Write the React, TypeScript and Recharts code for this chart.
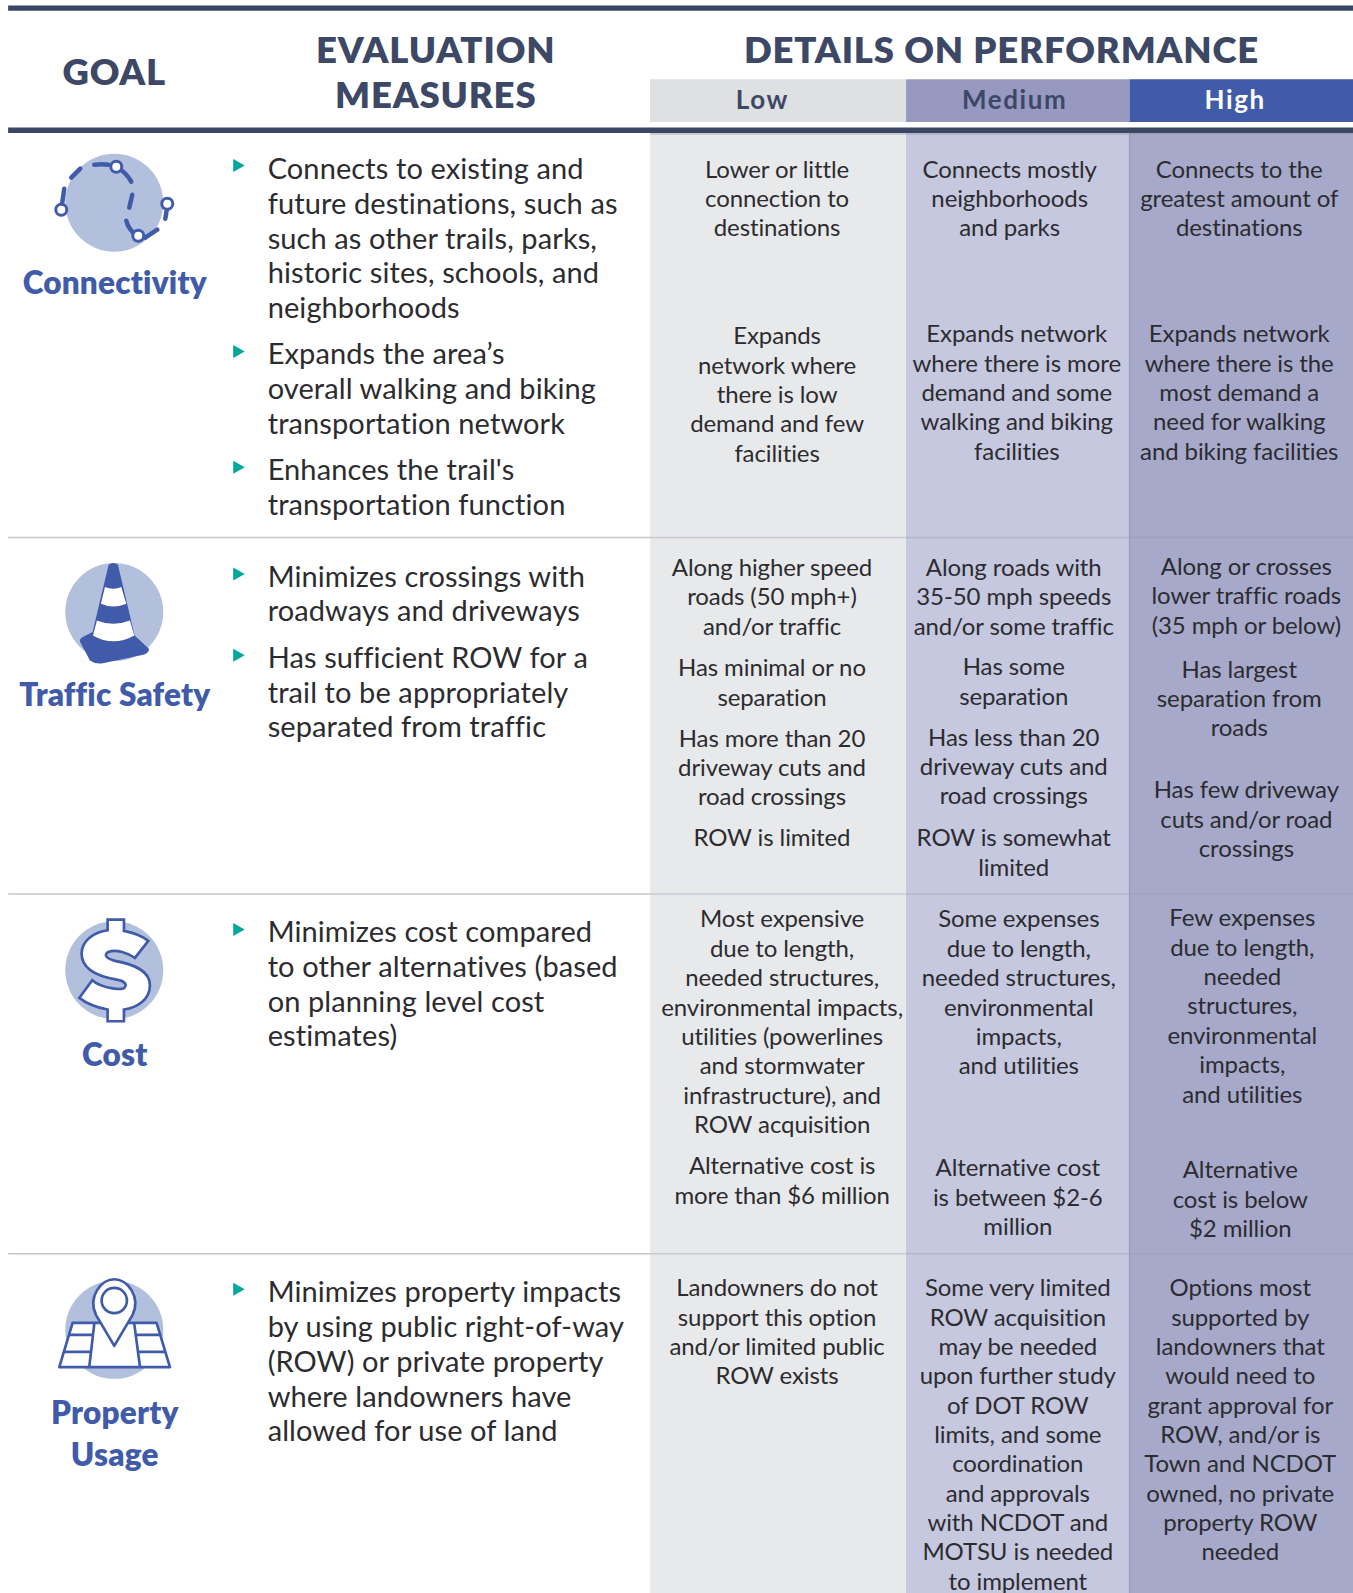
import React from "react";
import { ComposedChart, XAxis, YAxis, Scatter, ReferenceArea } from "recharts";

const W = 1353, H = 1593;
const VIEW_W = 1332, VIEW_H = 1568;
const FONT = "Lato, 'Noto Sans', sans-serif";
const INK = "#2c2c30", NAVY = "#3d4866", BLUE = "#3f5ba9", TEAL = "#00a79d", DISC = "#b2bfdd";

const headerGoal = ["GOAL"];
const headerMeasures = ["EVALUATION", "MEASURES"];
const headerDetails = ["DETAILS ON PERFORMANCE"];
const levels = ["Low", "Medium", "High"];

const m1a = ["Connects to existing and", "future destinations, such as", "such as other trails, parks,", "historic sites, schools, and", "neighborhoods"];
const m1b = ["Expands the area’s", "overall walking and biking", "transportation network"];
const m1c = ["Enhances the trail's", "transportation function"];
const m2a = ["Minimizes crossings with", "roadways and driveways"];
const m2b = ["Has sufficient ROW for a", "trail to be appropriately", "separated from traffic"];
const m3a = ["Minimizes cost compared", "to other alternatives (based", "on planning level cost", "estimates)"];
const m4a = ["Minimizes property impacts", "by using public right-of-way", "(ROW) or private property", "where landowners have", "allowed for use of land"];

const l1a = ["Lower or little", "connection to", "destinations"];
const l1b = ["Expands", "network where", "there is low", "demand and few", "facilities"];
const c1a = ["Connects mostly", "neighborhoods", "and parks"];
const c1b = ["Expands network", "where there is more", "demand and some", "walking and biking", "facilities"];
const h1a = ["Connects to the", "greatest amount of", "destinations"];
const h1b = ["Expands network", "where there is the", "most demand a", "need for walking", "and biking facilities"];

const l2a = ["Along higher speed", "roads (50 mph+)", "and/or traffic"];
const l2b = ["Has minimal or no", "separation"];
const l2c = ["Has more than 20", "driveway cuts and", "road crossings"];
const l2d = ["ROW is limited"];
const c2a = ["Along roads with", "35-50 mph speeds", "and/or some traffic"];
const c2b = ["Has some", "separation"];
const c2c = ["Has less than 20", "driveway cuts and", "road crossings"];
const c2d = ["ROW is somewhat", "limited"];
const h2a = ["Along or crosses", "lower traffic roads", "(35 mph or below)"];
const h2b = ["Has largest", "separation from", "roads"];
const h2c = ["Has few driveway", "cuts and/or road", "crossings"];

const l3a = ["Most expensive", "due to length,", "needed structures,", "environmental impacts,", "utilities (powerlines", "and stormwater", "infrastructure), and", "ROW acquisition"];
const l3b = ["Alternative cost is", "more than $6 million"];
const c3a = ["Some expenses", "due to length,", "needed structures,", "environmental", "impacts,", "and utilities"];
const c3b = ["Alternative cost", "is between $2-6", "million"];
const h3a = ["Few expenses", "due to length,", "needed", "structures,", "environmental", "impacts,", "and utilities"];
const h3b = ["Alternative", "cost is below", "$2 million"];

const l4a = ["Landowners do not", "support this option", "and/or limited public", "ROW exists"];
const c4a = ["Some very limited", "ROW acquisition", "may be needed", "upon further study", "of DOT ROW", "limits, and some", "coordination", "and approvals", "with NCDOT and", "MOTSU is needed", "to implement"];
const h4a = ["Options most", "supported by", "landowners that", "would need to", "grant approval for", "ROW, and/or is", "Town and NCDOT", "owned, no private", "property ROW", "needed"];

const goalNames = [["Connectivity"], ["Traffic Safety"], ["Cost"], ["Property", "Usage"]];

type Pt = { x: number; y: number; text: string; kind: string; anchor: string; fill?: string };
const rows = (text: string[], x: number, y: number, step: number, kind: string, anchor = "middle", fill?: string): Pt[] =>
  text.map((t, i) => ({ x, y: y + i * step, text: t, kind, anchor, fill }));

const BS = 28.9, MS = 34.2;
const textPoints: Pt[] = [
  ...rows(headerGoal, 112.5, 70, 44, "head"),
  ...rows(headerMeasures, 429, 49, 44, "head"),
  ...rows(headerDetails, 986, 49, 44, "head"),
  ...rows([levels[0]], 750.5, 98, 0, "level", "middle", NAVY),
  ...rows([levels[1]], 999, 98, 0, "level", "middle", NAVY),
  ...rows([levels[2]], 1216, 98, 0, "level", "middle", "#ffffff"),

  ...rows(goalNames[0], 113, 278, 42, "goal"),
  ...rows(goalNames[1], 113, 684, 42, "goal"),
  ...rows(goalNames[2], 113, 1038, 42, "goal"),
  ...rows(goalNames[3], 113, 1390, 42, "goal"),

  ...rows(m1a, 263.5, 166, MS, "measure", "start"),
  ...rows(m1b, 263.5, 348, MS, "measure", "start"),
  ...rows(m1c, 263.5, 462, MS, "measure", "start"),
  ...rows(m2a, 263.5, 567, MS, "measure", "start"),
  ...rows(m2b, 263.5, 647, MS, "measure", "start"),
  ...rows(m3a, 263.5, 917, MS, "measure", "start"),
  ...rows(m4a, 263.5, 1271.5, MS, "measure", "start"),

  ...rows(l1a, 765, 167, BS, "cell"),
  ...rows(l1b, 765, 331, BS, "cell"),
  ...rows(c1a, 994, 167, BS, "cell"),
  ...rows(c1b, 1001, 329, BS, "cell"),
  ...rows(h1a, 1220, 167, BS, "cell"),
  ...rows(h1b, 1220, 329, BS, "cell"),

  ...rows(l2a, 760, 559, BS, "cell"),
  ...rows(l2b, 760, 658, BS, "cell"),
  ...rows(l2c, 760, 727, BS, "cell"),
  ...rows(l2d, 760, 825, BS, "cell"),
  ...rows(c2a, 998, 559, BS, "cell"),
  ...rows(c2b, 998, 657, BS, "cell"),
  ...rows(c2c, 998, 726, BS, "cell"),
  ...rows(c2d, 998, 825, BS, "cell"),
  ...rows(h2a, 1227, 558, BS, "cell"),
  ...rows(h2b, 1220, 659, BS, "cell"),
  ...rows(h2c, 1227, 778, BS, "cell"),

  ...rows(l3a, 770, 905, BS, "cell"),
  ...rows(l3b, 770, 1148, BS, "cell"),
  ...rows(c3a, 1003, 905, BS, "cell"),
  ...rows(c3b, 1002, 1150, BS, "cell"),
  ...rows(h3a, 1223, 904, BS, "cell"),
  ...rows(h3b, 1221, 1152, BS, "cell"),

  ...rows(l4a, 765, 1268, BS, "cell"),
  ...rows(c4a, 1002, 1268, BS, "cell"),
  ...rows(h4a, 1221, 1268, BS, "cell"),
];

const bulletPoints = [163, 346, 460, 565, 645, 915, 1269].map((y) => ({ x: 235, y }));
const iconPoints = [
  { x: 112.5, y: 199.5, icon: "link" },
  { x: 112.5, y: 602.5, icon: "cone" },
  { x: 112.5, y: 955, icon: "dollar" },
  { x: 112.5, y: 1309, icon: "map" },
];

const TEXT_STYLE: Record<string, any> = {
  head: { fontSize: 36.5, fontWeight: 800, fill: NAVY, letterSpacing: 0.85, dy: 13.5 },
  level: { fontSize: 26, fontWeight: 700, letterSpacing: 1.6, dy: 9 },
  goal: { fontSize: 31.5, fontWeight: 800, fill: BLUE, letterSpacing: 0.2, dy: 11.5 },
  measure: { fontSize: 29, fontWeight: 400, fill: INK, letterSpacing: 0.1, dy: 10.5 },
  cell: { fontSize: 24, fontWeight: 400, fill: INK, letterSpacing: -0.1, dy: 8 },
};

const TextMark = (p: any) => {
  const d = p.payload as Pt;
  const s = TEXT_STYLE[d.kind];
  return (
    <text x={p.cx} y={p.cy + s.dy} textAnchor={d.anchor} fontFamily={FONT} fontSize={s.fontSize} fontWeight={s.fontWeight}
      fill={d.fill || s.fill} letterSpacing={s.letterSpacing}>{d.text}</text>
  );
};

const BulletMark = (p: any) => (
  <path d={`M${p.cx - 5.5},${p.cy - 6.5}L${p.cx + 6},${p.cy}L${p.cx - 5.5},${p.cy + 6.5}Z`} fill={TEAL} />
);

const Node = ({ x, y }: { x: number; y: number }) => (
  <circle cx={x} cy={y} r={5.5} fill="#fff" stroke={BLUE} strokeWidth={3} />
);

const LinkIcon = () => (
  <g fill="none" stroke={BLUE} strokeWidth={4.5} strokeLinecap="round">
    <path d="M-20,-38Q-12,-39 -6,-38" />
    <path d="M2,-36Q12,-30 17,-21" />
    <path d="M18,-8L15,5" />
    <path d="M12,18Q14,26 22,33" />
    <path d="M31,35L43,27" />
    <path d="M53,4L51,16" />
    <path d="M-53,7L-50,-14" />
    <path d="M-43,-25L-34,-34" />
    <Node x={2} y={-36} /><Node x={24} y={33} /><Node x={53} y={1} /><Node x={-53} y={7} />
  </g>
);

const Zoomed = ({ children }: { children: React.ReactNode }) => (
  <g transform="scale(0.3333) translate(-343,-240)">{children}</g>
);

const ConeIcon = () => (
  <Zoomed>
    <path d="M326,98Q340,88 354,98L404,310L447,350Q448,362 430,368L305,394Q285,396 270,385L240,328Q238,320 250,314L278,300Z" fill={BLUE} />
    <path d="M315,165Q340,175 364,165L379,215Q340,232 303,215Z" fill="#fff" />
    <path d="M291,265Q340,285 390,265L403,310Q340,345 279,310Z" fill="#fff" />
  </Zoomed>
);

const DollarIcon = () => (
  <Zoomed>
    <path d="M323,88L372,88L372,122C405,128 430,140 445,152L405,203C385,190 350,175 325,185C310,195 320,205 345,212C400,222 450,240 450,285C450,330 410,352 372,358L372,393L323,393L323,358C290,352 260,340 238,323L277,270C300,290 350,300 370,295C385,285 375,272 350,268C300,260 245,240 245,190C245,150 285,125 323,120Z"
      fill="#fff" stroke={BLUE} strokeWidth={8} strokeLinejoin="miter" />
  </Zoomed>
);

const MapIcon = () => (
  <Zoomed>
    <g fill="#fff" stroke={BLUE} strokeWidth={8} strokeLinejoin="round">
      <path d="M218,219L470,219L510,352L178,352Z" />
      <path d="M283,222L268,350M403,222L420,350M205,255L279,255M190,306L273,306M408,255L480,255M414,306L495,306" fill="none" />
      <path d="M343,288L288,195C262,140 305,88 343,88C381,88 424,140 398,195Z" />
      <circle cx={343} cy={152} r={38} />
    </g>
  </Zoomed>
);

const IconMark = (p: any) => {
  const name = p.payload.icon;
  return (
    <g transform={`translate(${p.cx},${p.cy})`}>
      <circle r={49} fill={DISC} />
      {name === "link" && <LinkIcon />}
      {name === "cone" && <ConeIcon />}
      {name === "dollar" && <DollarIcon />}
      {name === "map" && <MapIcon />}
    </g>
  );
};

const Band = (x1: number, x2: number, y1: number, y2: number, fill: string, op = 1) => (
  <ReferenceArea key={`${x1}-${y1}-${fill}`} x1={x1} x2={x2} y1={y1} y2={y2} fill={fill} fillOpacity={op} stroke="none" />
);

const lowX = [640, 892], midX = [892, 1112], highX = [1112, 1332];

export default function App() {
  return (
    <div style={{ position: "absolute", left: 0, top: 0, width: W, height: H, background: "#fff" }}>
      <ComposedChart width={W} height={H} margin={{ top: 0, right: 0, bottom: 0, left: 0 }} data={textPoints}>
        <XAxis type="number" dataKey="x" domain={[0, VIEW_W]} hide allowDataOverflow />
        <YAxis type="number" dataKey="y" domain={[0, VIEW_H]} reversed hide allowDataOverflow />
        {Band(8, 1332, 5.4, 10.6, "#3a4663")}
        {Band(640, 892, 78, 120, "#dfe0e2")}
        {Band(892, 1112, 78, 120, "#9799c0")}
        {Band(1112, 1332, 78, 120, "#3f5ba9")}
        {Band(lowX[0], lowX[1], 130, 1568, "#e8e9eb")}
        {Band(midX[0], midX[1], 130, 1568, "#c5c8de")}
        {Band(highX[0], highX[1], 130, 1568, "#a7a9ca")}
        {Band(1111.4, 1112.6, 130, 1568, "#9a9dc2")}
        {Band(8, 1332, 125.6, 130.8, "#3a4663")}
        {Band(640, 1332, 130.8, 132.6, "#9a9ca8", 0.45)}
        {[529, 880, 1234].map((y) => Band(8, 640, y - 0.7, y + 0.7, "#c6c6c6"))}
        {[529, 880, 1234].map((y) => Band(640, 1332, y - 0.7, y + 0.7, "#8f92b0", 0.35))}
        <Scatter data={iconPoints} isAnimationActive={false} shape={IconMark} />
        <Scatter data={bulletPoints} isAnimationActive={false} shape={BulletMark} />
        <Scatter data={textPoints} isAnimationActive={false} shape={TextMark} />
      </ComposedChart>
    </div>
  );
}
